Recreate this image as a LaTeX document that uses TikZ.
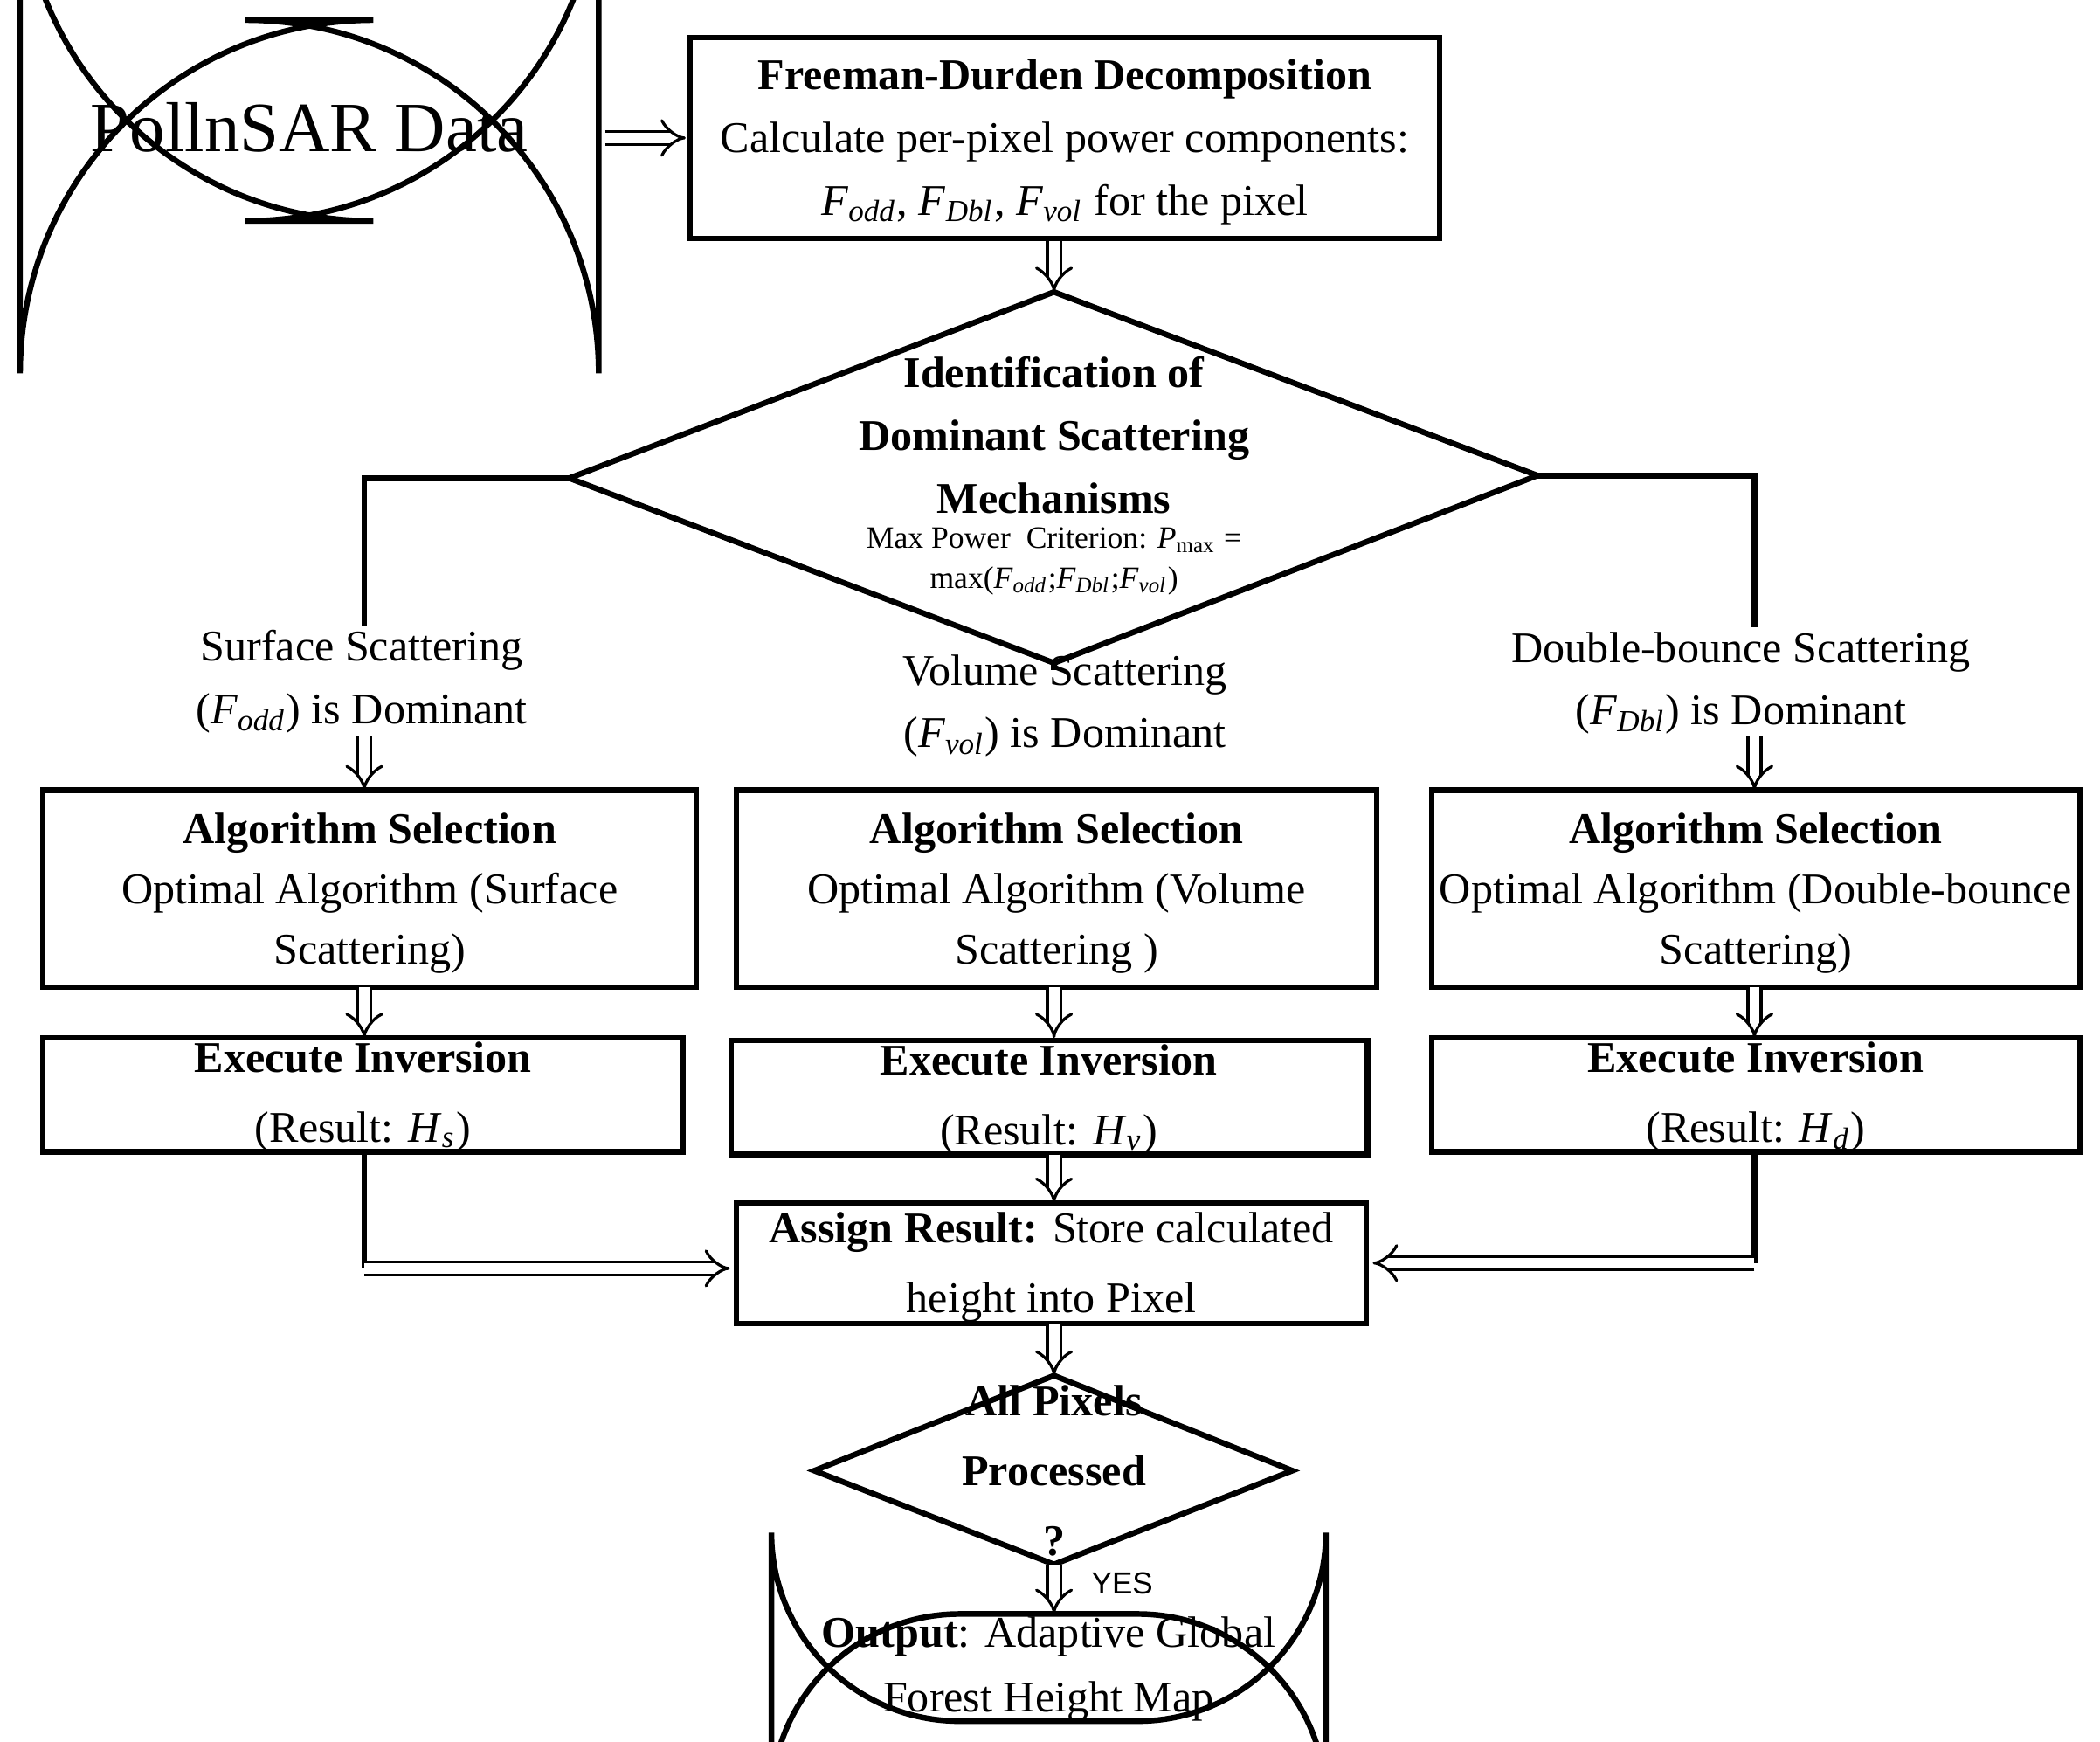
\documentclass[tikz,border=0pt]{standalone}
\usepackage{fontspec}
\setmainfont{Liberation Serif}
\newfontfamily\sff{Liberation Sans}
\usetikzlibrary{arrows.meta,shapes.geometric}
\newcommand\Fs[1]{\textit{F}\textsubscript{\textit{#1}}}
\newcommand\Hs[1]{\textit{H}\textsubscript{\textit{#1}}}
\begin{document}
\begin{tikzpicture}[x=0.01cm,y=-0.01cm,
  box/.style={draw,line width=1.2pt,inner sep=0pt},
  txt/.style={font=\fontsize{9.3}{10.8}\selectfont,align=center,inner sep=0pt},
  dar/.style={double,double distance=2.2pt,line width=0.6pt,-{Implies}},
  ln/.style={line width=1.2pt}]
\useasboundingbox (0,0) rectangle (1568,1300);
% start
\draw[box,rounded corners=75] (15,15) rectangle (447,165);
\node[txt,font=\fontsize{15}{18}\selectfont] (pd) at (231,95) {PollnSAR Data};
\draw[box] (515,28) rectangle (1075,178);
\node[txt] (fd) at (795,106) {\textbf{Freeman-Durden Decomposition}\\[2.5pt]Calculate per-pixel power components:\\[2.5pt]\Fs{odd}, \Fs{Dbl}, \Fs{vol} for the pixel};
\coordinate (a1) at (452,103); \coordinate (a2) at (512,103);
\draw[dar] (a1) -- (a2);
% big diamond
\coordinate (dt) at (787,218); \coordinate (dl) at (425,357);
\coordinate (dr) at (1148,355); \coordinate (db) at (787,495);
\draw[ln] (dt) -- (dr) -- (db) -- (dl) -- cycle;
\coordinate (b1) at (787,180); \draw[dar] (b1) -- (dt);
\node[txt,font=\fontsize{9.3}{10.8}\selectfont\bfseries] (dtx) at (787,325) {Identification of\\[2.5pt]Dominant Scattering\\[2.5pt]Mechanisms};
\node[txt,font=\fontsize{6.6}{8.5}\selectfont] (dsm) at (787,419) {Max Power\ \ Criterion: \textit{P}\textsubscript{max} =\\max(\Fs{odd};\Fs{Dbl};\Fs{vol})};
% branches
\coordinate (l1) at (272,357); \coordinate (l2) at (272,472);
\coordinate (r1) at (1310,355); \coordinate (r2) at (1310,472);
\draw[ln] (dl) -- (l1) -- (l2);
\draw[ln] (dr) -- (r1) -- (r2);
\draw[ln] (db) -- (787,500);
\node[txt,fill=white,inner sep=1pt] (ls) at (270,509) {Surface Scattering\\[2.5pt](\Fs{odd}) is Dominant};
\node[txt] (ms) at (795,527) {Volume Scattering\\[2.5pt](\Fs{vol}) is Dominant};
\node[txt,fill=white,inner sep=1pt] (rs) at (1300,510) {Double-bounce Scattering\\[2.5pt](\Fs{Dbl}) is Dominant};
% algorithm boxes
\foreach \n/\xa/\xb/\t in {al/32/520/{Optimal Algorithm (Surface\\[2pt]Scattering)},am/550/1028/{Optimal Algorithm (Volume\\[2pt]Scattering )},ar/1069/1553/{Optimal Algorithm (Double-bounce\\[2pt]Scattering)}}{
  \draw[box] (\xa,590) rectangle (\xb,737);
  \node[txt] (\n) at ({(\xa+\xb)/2},667) {\textbf{Algorithm Selection}\\[2pt]\t};
}
\draw[dar] (272,550) -- (272,590);
\draw[dar] (1310,550) -- (1310,590);
\foreach \x in {272,787,1310} \draw[dar] (\x,737) -- (\x,775);
% execute
\draw[box] (32,775) rectangle (510,860);
\node[txt] (el) at (271,819) {\textbf{Execute Inversion}\\[4pt](Result: \Hs{s})};
\draw[box] (546,777) rectangle (1021,862);
\node[txt] (em) at (783,821) {\textbf{Execute Inversion}\\[4pt](Result: \Hs{v})};
\draw[box] (1069,775) rectangle (1553,860);
\node[txt] (er) at (1311,819) {\textbf{Execute Inversion}\\[4pt](Result: \Hs{d})};
% assign
\draw[box] (550,898) rectangle (1020,988);
\node[txt] (as) at (785,946) {\textbf{Assign Result:} Store calculated\\[4pt]height into Pixel};
\draw[dar] (787,862) -- (787,898);
\draw[ln] (272,860) -- (272,947); \draw[dar] (272,947) -- (545,947);
\draw[ln] (1310,860) -- (1310,943); \draw[dar] (1310,943) -- (1025,943);
\draw[dar] (787,988) -- (787,1027);
% small diamond
\draw[ln] (787,1027) -- (965,1098) -- (787,1168) -- (608,1098) -- cycle;
\node[txt,font=\fontsize{9.3}{10.8}\selectfont\bfseries] (ap) at (787,1098) {All Pixels\\[4pt]Processed\\[4pt]?};
\draw[dar] (787,1168) -- (787,1205);
\node[font=\sff\fontsize{6.5}{8}\selectfont] (yes) at (838,1182) {YES};
% output
\draw[box,rounded corners=40] (576,1205) rectangle (990,1285);
\node[txt] (out) at (783,1246) {\textbf{Output}: Adaptive Global\\[3pt]Forest Height Map};
\end{tikzpicture}
\end{document}
